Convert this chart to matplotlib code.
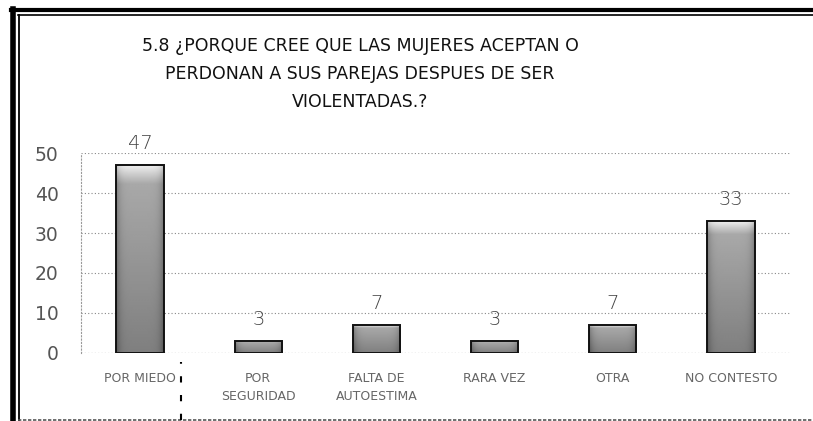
import numpy as np
import matplotlib
matplotlib.use("Agg")
import matplotlib.pyplot as plt
from matplotlib.lines import Line2D

categories = ["POR MIEDO", "POR\nSEGURIDAD", "FALTA DE\nAUTOESTIMA", "RARA VEZ", "OTRA", "NO CONTESTO"]
values = [47, 3, 7, 3, 7, 33]
yticks = [0, 10, 20, 30, 40, 50]
title = "5.8 ¿PORQUE CREE QUE LAS MUJERES ACEPTAN O\nPERDONAN A SUS PAREJAS DESPUES DE SER\nVIOLENTADAS.?"

fig = plt.figure(figsize=(8.13, 4.21), dpi=100)
fig.patch.set_facecolor("white")

# frame (outer double border)
fig.add_artist(Line2D([13/813, 13/813], [0, 1 - 9/421], color="black", lw=4, transform=fig.transFigure))
fig.add_artist(Line2D([18.5/813, 18.5/813], [0, 1 - 15/421], color="black", lw=1.3, transform=fig.transFigure))
fig.add_artist(Line2D([11/813, 1], [1 - 10/421, 1 - 10/421], color="black", lw=3, transform=fig.transFigure))
fig.add_artist(Line2D([18/813, 1], [1 - 15/421, 1 - 15/421], color="black", lw=1.2, transform=fig.transFigure))
fig.add_artist(Line2D([18/813, 1], [1 - 419.5/421, 1 - 419.5/421], color="#555555", lw=1.2,
                      ls=(0, (2, 1)), transform=fig.transFigure))
# scan artifact mark
fig.add_artist(Line2D([181/813, 181/813], [1 - 420/421, 1 - 362/421], color="black", lw=1.5,
                      ls=(0, (3, 6)), transform=fig.transFigure))

fig.text(360/813, 1 - 74/421, title, ha="center", va="center", fontsize=12.5,
         family="DejaVu Sans", color="#111111", linespacing=1.68)

ax = fig.add_axes([81/813, 1 - 353/421, 709/813, 200/421])
x = np.arange(len(categories))
bars = ax.bar(x, values, width=0.4, color="none", edgecolor="#111111", linewidth=1.4, zorder=3)

grad = np.concatenate([np.linspace(0.92, 0.7, 6), np.linspace(0.66, 0.5, 58)]).reshape(-1, 1)
cols = np.linspace(-1, 1, 32)
shade = grad - 0.15 * cols[None, :] ** 6
for b in bars:
    x0, w, h = b.get_x(), b.get_width(), b.get_height()
    ax.imshow(shade, extent=[x0, x0 + w, 0, h], aspect="auto", cmap="gray",
              vmin=0, vmax=1, zorder=2, interpolation="bilinear")
    ax.text(x0 + w / 2, h + 3.0, str(int(h)), ha="center", va="bottom", fontsize=14,
            family="DejaVu Sans", color="#444444", fontweight="light", clip_on=False)

ax.set_xlim(-0.5, len(categories) - 0.5)
ax.set_ylim(0, 50)
ax.set_yticks(yticks)
ax.set_yticklabels([str(t) for t in yticks], fontsize=13.5, color="#555555")
ax.set_xticks(x)
ax.set_xticklabels(categories, fontsize=9, color="#666666", linespacing=1.5)
ax.tick_params(axis="both", length=0)
ax.tick_params(axis="y", pad=16)
ax.tick_params(axis="x", pad=14)
ax.grid(axis="y", color="#888888", ls=(0, (1, 2)), lw=0.8, zorder=0)
for s in ["top", "right", "bottom"]:
    ax.spines[s].set_visible(False)
ax.spines["left"].set_color("#999999")
ax.spines["left"].set_linestyle((0, (1, 2)))
ax.spines["left"].set_linewidth(0.8)
ax.axhline(0, color="#888888", ls=(0, (1, 2)), lw=0.8, zorder=1)

fig.savefig("out.png", dpi=100)
